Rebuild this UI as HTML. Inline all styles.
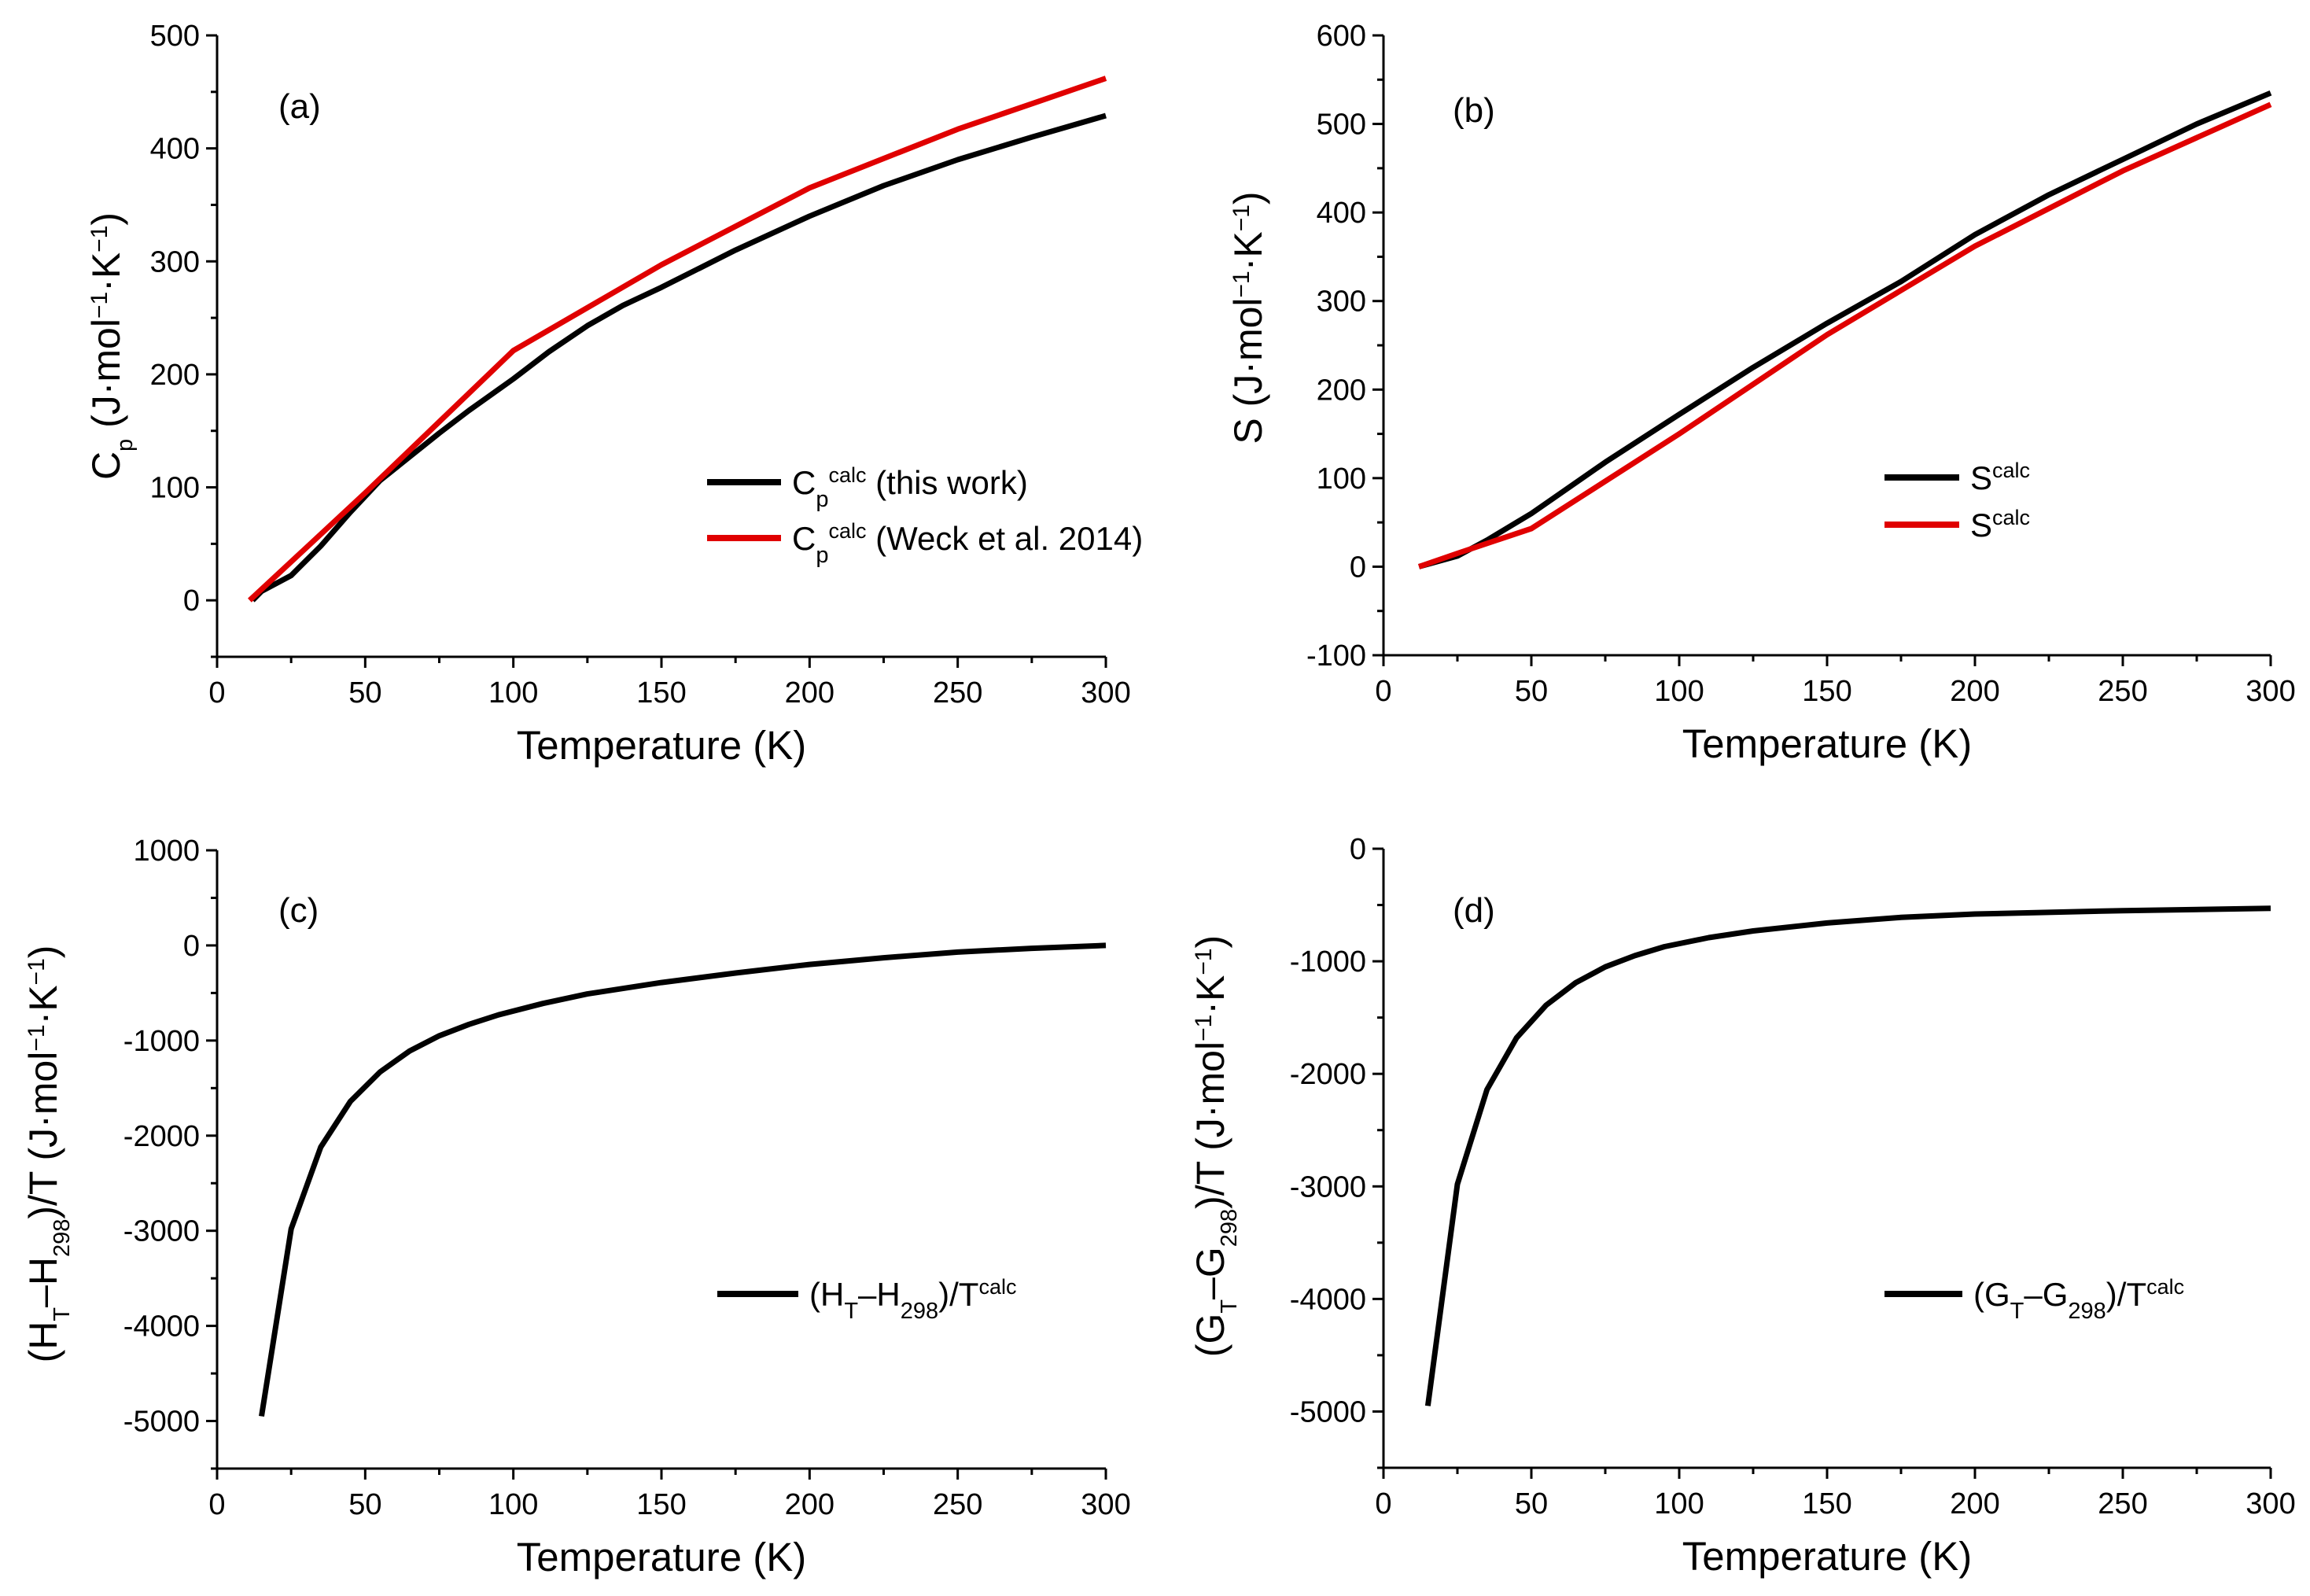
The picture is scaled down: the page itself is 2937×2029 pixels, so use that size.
<!DOCTYPE html>
<html><head><meta charset="utf-8"><style>
html,body{margin:0;padding:0;background:#fff;}
svg{display:block;font-family:"Liberation Sans",Arial,sans-serif;}
</style></head><body>
<svg id="fig" width="2937" height="2029" viewBox="0 0 2937 2029" xmlns="http://www.w3.org/2000/svg"></svg>
<script>
// ---- data ----
const cpT_black = [12,15,25,35,45,55,65,75,85,100,112,125,137,150,175,200,225,250,275,300];
const cpV_black = [0,8,22,48,78,106,127,148,168,196,220,243,261,277,310,340,367,390,410,429];
const cpT_red = [11,50,75,100,150,200,250,300];
const cpV_red = [0,95,158,221,297,365,417,462];
const sT_black = [12,25,35,45,50,75,100,125,150,175,200,225,250,275,300];
const sV_black = [0,12,30,50,60,118,172,225,275,322,375,420,460,500,535];
const sT_red = [12,25,50,100,150,200,250,300];
const sV_red = [0,15,43,150,262,362,447,522];
const hT = [15,25,35,45,55,65,75,85,95,110,125,150,175,200,225,250,275,300];
const hV = [-4950,-2980,-2120,-1640,-1330,-1110,-950,-830,-730,-610,-510,-390,-290,-200,-130,-70,-30,0];
const gT = [15,25,35,45,55,65,75,85,95,110,125,150,175,200,250,300];
const gV = [-4950,-2980,-2140,-1680,-1390,-1190,-1050,-950,-870,-790,-730,-660,-610,-580,-550,-530];
const xTicks = [0,50,100,150,200,250,300];
const yTicksA = [0,100,200,300,400,500];
const yTicksB = [-100,0,100,200,300,400,500,600];
const yTicksC = [-5000,-4000,-3000,-2000,-1000,0,1000];
const yTicksD = [-5000,-4000,-3000,-2000,-1000,0];

const NS="http://www.w3.org/2000/svg";
const svg=document.getElementById('fig');
function mk(tag,attrs,parent){const e=document.createElementNS(NS,tag);for(const k in attrs)e.setAttribute(k,attrs[k]);(parent||svg).appendChild(e);return e;}

function panel(p){
  const g=mk('g',{});
  
  
  const sx=v=>p.L+(v-p.xmin)/(p.xmax-p.xmin)*(p.R-p.L);
  const sy=v=>p.B-(v-p.ymin)/(p.ymax-p.ymin)*(p.B-p.T);
  const ax=mk('path',{d:`M${p.L},${p.T} L${p.L},${p.B} L${p.R},${p.B}`,fill:'none',stroke:'#000','stroke-width':3},g);
  
  
  xTicks.forEach((t,i)=>{
    const x=sx(t);
    mk('line',{x1:x,y1:p.B,x2:x,y2:p.B+14,stroke:'#000','stroke-width':3},g);
    if(i<xTicks.length-1){const xm=sx(t+25);mk('line',{x1:xm,y1:p.B,x2:xm,y2:p.B+8,stroke:'#000','stroke-width':3},g);}
    const tx=mk('text',{x:x,y:p.B+58,'font-size':38,'text-anchor':'middle'},g);
    tx.textContent=t;
    
    
  });
  p.yt.forEach((t,i)=>{
    const y=sy(t);
    mk('line',{x1:p.L,y1:y,x2:p.L-14,y2:y,stroke:'#000','stroke-width':3},g);
    const tx=mk('text',{x:p.L-22,y:y+13,'font-size':38,'text-anchor':'end'},g);
    tx.textContent=t;
    
    
  });
  const step=p.yt[1]-p.yt[0];
  for(let v=p.ymin;v<=p.ymax+1e-9;v+=step/2){
    if(p.yt.some(t=>Math.abs(t-v)<1e-6))continue;
    const y=sy(v);mk('line',{x1:p.L,y1:y,x2:p.L-8,y2:y,stroke:'#000','stroke-width':3},g);
  }
  p.series.forEach(s=>{
    const d=s.x.map((v,i)=>(i?'L':'M')+sx(v).toFixed(1)+','+sy(s.y[i]).toFixed(1)).join(' ');
    const pl=mk('path',{d:d,fill:'none',stroke:s.color,'stroke-width':7,'stroke-linejoin':'round'},g);
    
    
  });
  const lb=mk('text',{x:p.lab[0],y:p.lab[1],'font-size':44},g);
  lb.textContent=p.labText;
  
  
  const xt=mk('text',{x:(p.L+p.R)/2,y:p.B+130,'font-size':51,'text-anchor':'middle'},g);
  xt.textContent='Temperature (K)';
  
  
  const yt=mk('text',{transform:`translate(${p.yTitleX},${p.yTitleY}) rotate(-90)`,'font-size':50,'text-anchor':'middle'},g);
  yt.innerHTML=p.yTitle;
  
  
  p.legend.forEach(l=>{
    const ln=mk('line',{x1:l.x1,y1:l.y,x2:l.x2,y2:l.y,stroke:l.color,'stroke-width':8},g);
    
    
    const tx=mk('text',{x:l.x2+14,y:l.y+15,'font-size':42},g);
    tx.innerHTML=l.html;
    
    
  });
}
const unit='(J·mol<tspan baseline-shift="super" font-size="30">−1</tspan>·K<tspan baseline-shift="super" font-size="30">−1</tspan>)';
const sub=s=>`<tspan baseline-shift="sub" font-size="29">${s}</tspan>`;
const sup=s=>`<tspan baseline-shift="super" font-size="27">${s}</tspan>`;

panel({name:'panel-a-heat-capacity',L:276,R:1406,T:45,B:835,xmin:0,xmax:300,ymin:-50,ymax:500,yt:yTicksA,
  series:[{x:cpT_black,y:cpV_black,color:'#000',name:'cp-this-work-line'},{x:cpT_red,y:cpV_red,color:'#e00000',name:'cp-weck-line'}],
  lab:[354,150],labText:'(a)',yTitleX:152,yTitleY:440,yTitle:'C'+sub('p')+' '+unit,
  legend:[{x1:899,x2:993,y:613,color:'#000',html:'C'+sub('p')+sup('calc')+' (this work)'},
          {x1:899,x2:993,y:684,color:'#e00000',html:'C'+sub('p')+sup('calc')+' (Weck et al. 2014)'}]});
panel({name:'panel-b-entropy',L:1759,R:2887,T:45,B:833,xmin:0,xmax:300,ymin:-100,ymax:600,yt:yTicksB,
  series:[{x:sT_black,y:sV_black,color:'#000',name:'s-black-line'},{x:sT_red,y:sV_red,color:'#e00000',name:'s-red-line'}],
  lab:[1847,155],labText:'(b)',yTitleX:1604,yTitleY:404,yTitle:'S '+unit,
  legend:[{x1:2396,x2:2491,y:607,color:'#000',html:'S'+sup('calc')},
          {x1:2396,x2:2491,y:667,color:'#e00000',html:'S'+sup('calc')}]});
panel({name:'panel-c-enthalpy',L:276,R:1406,T:1081,B:1867,xmin:0,xmax:300,ymin:-5500,ymax:1000,yt:yTicksC,
  series:[{x:hT,y:hV,color:'#000',name:'h-line'}],
  lab:[354,1172],labText:'(c)',yTitleX:72,yTitleY:1467,yTitle:'(H'+sub('T')+'–H'+sub('298')+')/T '+unit,
  legend:[{x1:912,x2:1015,y:1645,color:'#000',html:'(H'+sub('T')+'–H'+sub('298')+')/T'+sup('calc')}]});
panel({name:'panel-d-gibbs',L:1759,R:2887,T:1079,B:1866,xmin:0,xmax:300,ymin:-5500,ymax:0,yt:yTicksD,
  series:[{x:gT,y:gV,color:'#000',name:'g-line'}],
  lab:[1847,1172],labText:'(d)',yTitleX:1556,yTitleY:1457,yTitle:'(G'+sub('T')+'–G'+sub('298')+')/T '+unit,
  legend:[{x1:2396,x2:2495,y:1645,color:'#000',html:'(G'+sub('T')+'–G'+sub('298')+')/T'+sup('calc')}]});
</script>
</body></html>
